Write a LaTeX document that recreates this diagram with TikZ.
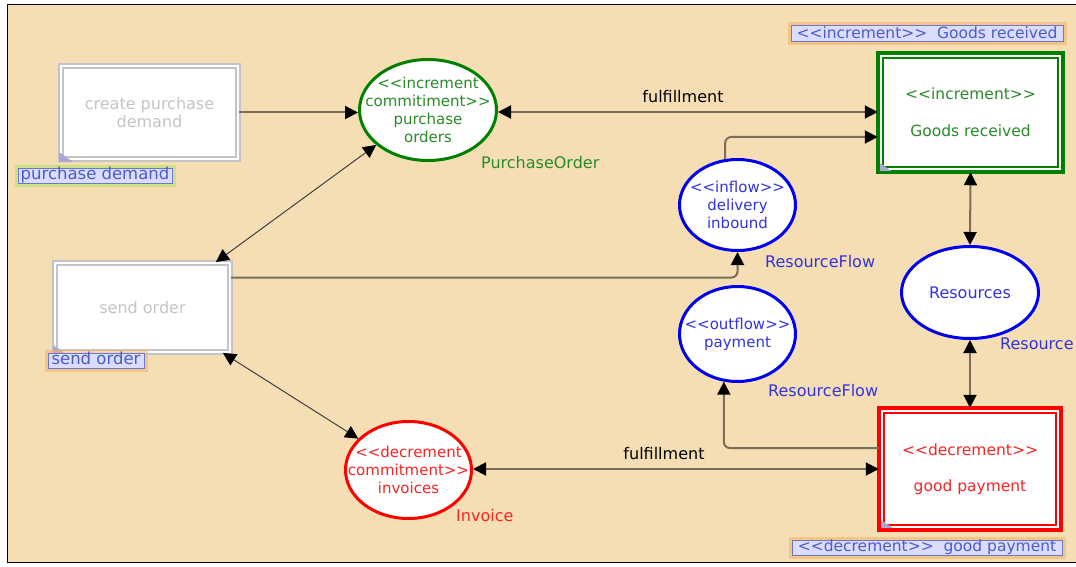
\documentclass[tikz,border=0pt]{standalone}
\usepackage{fontspec}
\setmainfont{DejaVu Sans}[Ligatures=TeXOff]
\usetikzlibrary{shapes.geometric,arrows.meta,calc}
\definecolor{bg}{HTML}{F5DEB3}
\definecolor{boxgray}{HTML}{C4C4C4}
\definecolor{txtgray}{HTML}{C4C4C4}
\definecolor{dgreen}{HTML}{008000}
\definecolor{tgreen}{HTML}{2A8A2A}
\definecolor{rblue}{HTML}{0000F0}
\definecolor{tblue}{HTML}{3333DD}
\definecolor{rred}{HTML}{FF0000}
\definecolor{tred}{HTML}{F52525}
\definecolor{lblfill}{HTML}{DADDFF}
\definecolor{lbldraw}{HTML}{6A78D0}
\definecolor{lbltxt}{HTML}{4C5CC8}
\definecolor{gloworange}{HTML}{F2B56E}
\definecolor{glowgreen}{HTML}{C0E27A}
\definecolor{conn}{HTML}{7A6E58}
\definecolor{cornerc}{HTML}{A8A8D4}
\begin{document}
\begin{tikzpicture}[x=1pt,y=-1pt,
  font=\fontsize{16}{18}\selectfont,
  act/.style={rectangle, draw=boxgray, line width=2.2pt, double=white, double distance=2pt,
    fill=white, text=txtgray, align=center, inner sep=0},
  evbox/.style={rectangle, line width=3.6pt, fill=white, align=center, inner sep=0, outer sep=0,
    font=\fontsize{15.5}{18}\selectfont},
  ell/.style={ellipse, line width=3pt, fill=white, inner sep=0},
  etxt/.style={align=center, inner sep=0, font=\fontsize{15}{18}\selectfont},
  lbl/.style={draw=lbldraw, line width=1pt, fill=lblfill, text=lbltxt, inner sep=0,
    text height=11.5pt, text depth=3pt, font=\fontsize{16.5}{18}\selectfont},
  glowo/.style={preaction={draw=gloworange, line width=7pt, opacity=.6}},
  glowg/.style={preaction={draw=glowgreen, line width=7pt, opacity=.75}},
  conn/.style={draw=conn, line width=2pt},
  thinc/.style={draw=black!75, line width=1pt},
  tip/.tip={Triangle[length=13pt,width=13pt,color=black]},
  txt/.style={inner sep=0}
]
\useasboundingbox (0,0) rectangle (1076,567);
\fill[white] (0,0) rectangle (1076,567);
\draw[fill=bg, line width=1pt] (7.5,4.5) rectangle (1090,562.5);

% activity boxes
\node[act, minimum width=176.6pt, minimum height=92.6pt] (cpd) at (149.5,112.5) {create purchase\\demand};
\node[act, minimum width=174.6pt, minimum height=88.6pt] (so) at (142.5,307.5) {send order};
\fill[cornerc] (59,162) -- (73,162) -- (59,152) -- cycle;
\fill[cornerc] (53,354) -- (66,354) -- (53,345) -- cycle;

% event boxes
\node[evbox, draw=dgreen, text=tgreen, minimum width=185.5pt, minimum height=119.5pt] (gr) at (970.5,112.5)
  {<<increment>>\\[19pt]Goods received};
\draw[dgreen, line width=1.8pt] ([xshift=5.2pt,yshift=-5.2pt]gr.north west) rectangle ([xshift=-5.2pt,yshift=5.2pt]gr.south east);
\fill[cornerc] (880,171) -- (891,171) -- (880,163) -- cycle;

\node[evbox, draw=rred, text=tred, minimum width=182.5pt, minimum height=122.5pt] (gp) at (970,469)
  {<<decrement>>\\[18pt]good payment};
\draw[rred, line width=1.8pt] ([xshift=5.2pt,yshift=-5.2pt]gp.north west) rectangle ([xshift=-5.2pt,yshift=5.2pt]gp.south east);
\fill[cornerc] (881,528) -- (893,528) -- (881,520) -- cycle;

% ellipses
\node[ell, draw=dgreen, minimum width=137pt, minimum height=101pt] (po) at (428,110) {};
\node[etxt, text=tgreen] (pot) at (po) {<<increment\\commitiment>>\\purchase\\orders};
\node[ell, draw=rred, minimum width=126pt, minimum height=97pt] (inv) at (408.5,470) {};
\node[etxt, text=tred] (invt) at (inv) {<<decrement\\commitment>>\\invoices};
\node[ell, draw=rblue, minimum width=116pt, minimum height=91pt] (dlv) at (737.5,205) {};
\node[etxt, text=tblue] (dlvt) at (dlv) {<<inflow>>\\delivery\\inbound};
\node[ell, draw=rblue, minimum width=116pt, minimum height=95pt] (pay) at (737.5,334) {};
\node[etxt, text=tblue] (payt) at (pay) {<<outflow>>\\payment};
\node[ell, draw=rblue, minimum width=137pt, minimum height=92pt] (res) at (970,292.5) {};
\node[etxt, text=tblue, font=\fontsize{16}{18}\selectfont] (rest) at (res) {Resources};

% type labels
\node[txt, anchor=west, text=tgreen] (lpo) at (481,163) {PurchaseOrder};
\node[txt, anchor=west, text=tred] (linv) at (456,516) {Invoice};
\node[txt, anchor=west, text=tblue] (ldlv) at (765,262) {ResourceFlow};
\node[txt, anchor=west, text=tblue] (lpay) at (768,391) {ResourceFlow};
\node[txt, anchor=west, text=tblue] (lres) at (1000,344) {Resource};

% name labels
\node[lbl, glowg, minimum width=154pt, minimum height=15pt] (ncpd) at (95,175.5) {purchase demand};
\node[lbl, glowo, minimum width=96pt, minimum height=15pt] (nso) at (96,360.5) {send order};
\node[lbl, glowo, minimum width=272pt, minimum height=16pt, font=\fontsize{15.5}{18}\selectfont] (ngr) at (927,34) {<<increment>>\ \ Goods received};
\node[lbl, glowo, minimum width=270pt, minimum height=15pt, font=\fontsize{15.5}{18}\selectfont] (ngp) at (927,547.5) {<<decrement>>\ \ good payment};

% connectors
\draw[conn, -tip] (cpd.east) -- (cpd.east -| po.west);
\draw[conn, tip-tip] (po.east |- 0,112) -- (gr.west |- 0,112);
\node[txt] (f1) at (683,97) {fulfillment};
\draw[thinc, tip-tip] ([xshift=-15pt]so.north east) -- (po.214);
\draw[conn, -tip, rounded corners=6pt] ([yshift=30pt]so.east) -| (dlv.south);
\draw[conn, -tip, rounded corners=6pt] (dlv.105) |- ([yshift=-24.5pt]gr.west);
\draw[conn, tip-tip] (gr.south) -- (res.north);
\draw[conn, tip-tip] (res.south) -- (gp.north);
\draw[conn, -tip, rounded corners=6pt] ([yshift=21pt]gp.west) -| (pay.254);
\draw[conn, tip-tip] (inv.east |- 0,469) -- (gp.west |- 0,469);
\node[txt] (f2) at (664,454) {fulfillment};
\draw[thinc, tip-tip] ([xshift=-8pt]so.south east) -- (inv.148);
\end{tikzpicture}
\end{document}
